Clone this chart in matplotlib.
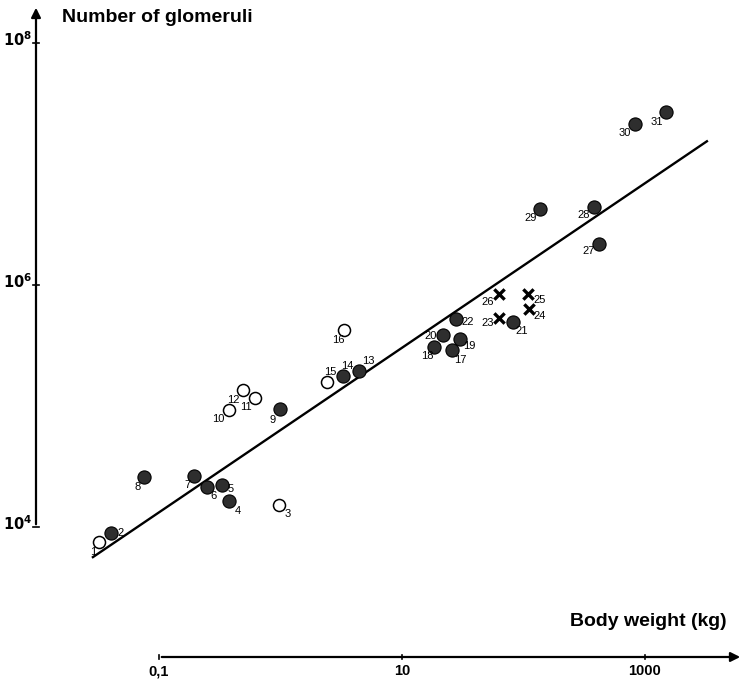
import numpy as np
import matplotlib
matplotlib.use('Agg')
import matplotlib.pyplot as plt

plt.rcParams['font.family'] = ['Liberation Sans', 'DejaVu Sans']

# body weight (kg) and number of glomeruli
ids = list(range(1, 32))
weight = [0.032, 0.040, 0.98, 0.38, 0.33, 0.25, 0.195, 0.076, 0.99, 0.38,
          0.62, 0.49, 4.46, 3.29, 2.42, 3.33, 25.9, 18.4, 30.2, 21.6,
          82.4, 27.8, 62.8, 111, 109, 62.8, 421, 378, 136, 822, 1489]
glomeruli = [7560, 8970, 15200, 16500, 22200, 21300, 26500, 25800, 94400, 92700,
             115800, 135600, 194500, 177000, 157000, 425000, 288000, 309000, 358000, 384000,
             498000, 521000, 537000, 634000, 844000, 844000, 2.19e6, 4.44e6, 4.22e6, 2.14e7, 2.67e7]
# 'f' filled circle, 'o' open circle, 'x' cross
kind = ['o', 'f', 'o', 'f', 'f', 'f', 'f', 'f', 'f', 'o',
        'o', 'o', 'f', 'f', 'o', 'o', 'f', 'f', 'f', 'f',
        'f', 'f', 'x', 'x', 'x', 'x', 'f', 'f', 'f', 'f', 'f']

# regression line log N = a + b log W
fit_a = 4.801
fit_b = 0.680
fit_range = (0.0286, 3236)

xticks = [0.1, 10, 1000]
xtick_labels = ['0,1', '10', '1000']
yticks = [1e4, 1e6, 1e8]
ytick_labels = ['$\\mathbf{10^4}$', '$\\mathbf{10^6}$', '$\\mathbf{10^8}$']

# label offsets in pixels (dx right, dy down)
lab_off = [(-6, 10), (10, 0), (8, 9), (8, 10), (9, 4), (6, 9), (-7, 9), (-7, 10), (-7, 11), (-11, 9),
           (-9, 9), (-9, 10), (9, -10), (4, -10), (3, -10), (-6, 10), (8, 10), (-7, 9), (9, 7), (-12, 1),
           (8, 9), (12, 3), (-11, 5), (11, 7), (12, 6), (-11, 8), (-11, 7), (-10, 8), (-9, 9), (-10, 9), (-9, 10)]

W, H = 743, 680
fig = plt.figure(figsize=(W / 100, H / 100), dpi=100)
left, right, bottom, top = 36, 743, 657, 5
ax = fig.add_axes([left / W, 1 - bottom / H, (right - left) / W, (bottom - top) / H])
ax.set_xscale('log')
ax.set_yscale('log')
xmin, xmax = 10 ** -2.012, 10 ** 3.807
ymin, ymax = 10 ** 2.926, 10 ** 8.314
ax.set_xlim(xmin, xmax)
ax.set_ylim(ymin, ymax)
for s in ax.spines.values():
    s.set_visible(False)
ax.set_xticks([])
ax.set_yticks([])
ax.minorticks_off()

# axes with arrows
ax.annotate('', xy=(xmax, ymin), xytext=(0.1, ymin), xycoords='data',
            arrowprops=dict(arrowstyle='-|>', lw=1.6, color='black', mutation_scale=14),
            annotation_clip=False)
ax.annotate('', xy=(xmin, ymax), xytext=(xmin, 1e4), xycoords='data',
            arrowprops=dict(arrowstyle='-|>', lw=1.6, color='black', mutation_scale=14),
            annotation_clip=False)

for xt, lab in zip(xticks, xtick_labels):
    ax.plot([xt, xt], [ymin / 1.04, ymin * 1.04], color='black', lw=1.2, clip_on=False)
    ax.annotate(lab, (xt, ymin), xytext=(0, -7), textcoords='offset pixels',
                ha='center', va='top', fontsize=10.5, fontweight='bold', annotation_clip=False)
for yt, lab in zip(yticks, ytick_labels):
    ax.plot([xmin / 1.05, xmin * 1.05], [yt, yt], color='black', lw=1.2, clip_on=False)
    ax.annotate(lab, (xmin, yt), xytext=(-4, 3), textcoords='offset pixels',
                ha='right', va='center', fontsize=10.5, annotation_clip=False)

ax.text(62 / W, 1 - 17 / H, 'Number of glomeruli', transform=fig.transFigure,
        fontsize=14, fontweight='bold', ha='left', va='center')
ax.text(727 / W, 1 - 621 / H, 'Body weight (kg)', transform=fig.transFigure,
        fontsize=14, fontweight='bold', ha='right', va='center')

# regression line
wl = np.array(fit_range)
ax.plot(wl, 10 ** (fit_a + fit_b * np.log10(wl)), color='black', lw=1.7, zorder=2)

w = np.array(weight)
g = np.array(glomeruli)
k = np.array(kind)
ax.scatter(w[k == 'f'], g[k == 'f'], s=90, facecolor='#2e2e2e', edgecolor='black', lw=0.8, zorder=3)
ax.scatter(w[k == 'o'], g[k == 'o'], s=75, facecolor='white', edgecolor='black', lw=1.1, zorder=3)
ax.scatter(w[k == 'x'], g[k == 'x'], s=55, marker='x', color='black', lw=2.4, zorder=3)

for i, wi, gi, (dx, dy) in zip(ids, weight, glomeruli, lab_off):
    ax.annotate(str(i), (wi, gi), xytext=(dx, -dy), textcoords='offset pixels',
                ha='center', va='center', fontsize=8)

fig.savefig('out.png', dpi=100)
